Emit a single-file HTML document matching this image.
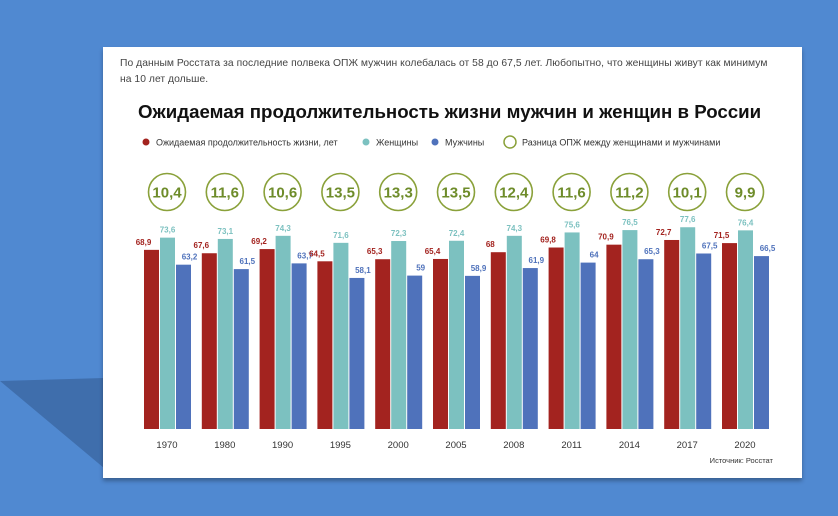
<!DOCTYPE html>
<html><head><meta charset="utf-8"><style>
body{margin:0;width:838px;height:516px;background:#5089d1;overflow:hidden;position:relative;font-family:"Liberation Sans",sans-serif}
#shadow{position:absolute;left:0;top:0}
#card{position:absolute;left:103px;top:47px;width:699px;height:431px;background:#fff;box-shadow:0 3px 4px rgba(0,0,0,.3)}
.intro{position:absolute;left:17px;font-size:10.3px;color:#444;white-space:nowrap;letter-spacing:0.05px}
#title{position:absolute;left:35px;top:54px;font-size:18.7px;font-weight:bold;color:#111;white-space:nowrap}
</style></head><body>
<svg id="shadow" width="838" height="516"><polygon points="0,381 104,378 104,468" fill="#3f6eac"/></svg>
<div id="card">
<div class="intro" style="top:11px">По данным Росстата за последние полвека ОПЖ мужчин колебалась от 58 до 67,5 лет. Любопытно, что женщины живут как минимум</div>
<div class="intro" style="top:27px">на 10 лет дольше.</div>
<div id="title">Ожидаемая продолжительность жизни мужчин и женщин в России</div>
</div>
<svg id="chart" width="838" height="516" style="position:absolute;left:0;top:0"></svg>
<script>
const years=["1970","1980","1990","1995","2000","2005","2008","2011","2014","2017","2020"];
const total=[68.9,67.6,69.2,64.5,65.3,65.4,68,69.8,70.9,72.7,71.5];
const women=[73.6,73.1,74.3,71.6,72.3,72.4,74.3,75.6,76.5,77.6,76.4];
const men=[63.2,61.5,63.7,58.1,59,58.9,61.9,64,65.3,67.5,66.5];
const diff=["10,4","11,6","10,6","13,5","13,3","13,5","12,4","11,6","11,2","10,1","9,9"];
const svg=document.getElementById('chart'),NS='http://www.w3.org/2000/svg';
const base=429,k=2.6,x0=144,step=57.8,bw=15;
const y=v=>base-v*k;
const fmt=v=>String(v).replace('.',',');
function mk(t,a,txt){const e=document.createElementNS(NS,t);for(const n in a)e.setAttribute(n,a[n]);if(txt!=null)e.textContent=txt;svg.appendChild(e);return e;}
const leg=[["#a3231f","Ожидаемая продолжительность жизни, лет",146,"dot"],["#7cc1c0","Женщины",366,"dot"],["#4f72bb","Мужчины",435,"dot"],["#8aa13a","Разница ОПЖ между женщинами и мужчинами",508,"ring"]];
leg.forEach(l=>{
 const c=l[3]=="dot"?mk('circle',{cx:l[2],cy:142,r:3.5,fill:l[0]}):mk('circle',{cx:l[2]+2,cy:142,r:6,fill:'none',stroke:l[0],'stroke-width':1.5});
 
 
 const t=mk('text',{x:l[2]+(l[3]=="dot"?10:14),y:145.5,'font-size':9,fill:'#333'},l[1]);
 
 
});
years.forEach((yr,i)=>{
 const gx=x0+i*step;
 const series=[[total[i],'#a3231f',gx,'#a3231f'],[women[i],'#7cc1c0',gx+16,'#7cc1c0'],[men[i],'#4f72bb',gx+32,'#4f72bb']];
 series.forEach((s,j)=>{
  const r=mk('rect',{x:s[2],y:y(s[0]),width:bw,height:base-y(s[0]),fill:s[1]});
  
  
  const tx=j==0?s[2]+bw/2-8:(j==1?s[2]+bw/2:s[2]+bw/2+6);
  const t=mk('text',{x:tx,y:y(s[0])-5,'font-size':8,'font-weight':'bold','text-anchor':'middle',fill:s[3]},fmt(s[0]));
  
  
 });
 const cx=gx+23;
 const c=mk('circle',{cx:cx,cy:192,r:18.5,fill:'none',stroke:'#8aa13a','stroke-width':1.6});
 
 
 const dt=mk('text',{x:cx,y:197.5,'font-size':15,'font-weight':'bold','text-anchor':'middle',fill:'#6e8c2a'},diff[i]);
 
 
 const yl=mk('text',{x:cx,y:448,'font-size':9.5,'text-anchor':'middle',fill:'#333'},yr);
 
 
});
const src=mk('text',{x:773,y:463,'font-size':7.5,'text-anchor':'end',fill:'#333'},"Источник: Росстат");


</script>
</body></html>
